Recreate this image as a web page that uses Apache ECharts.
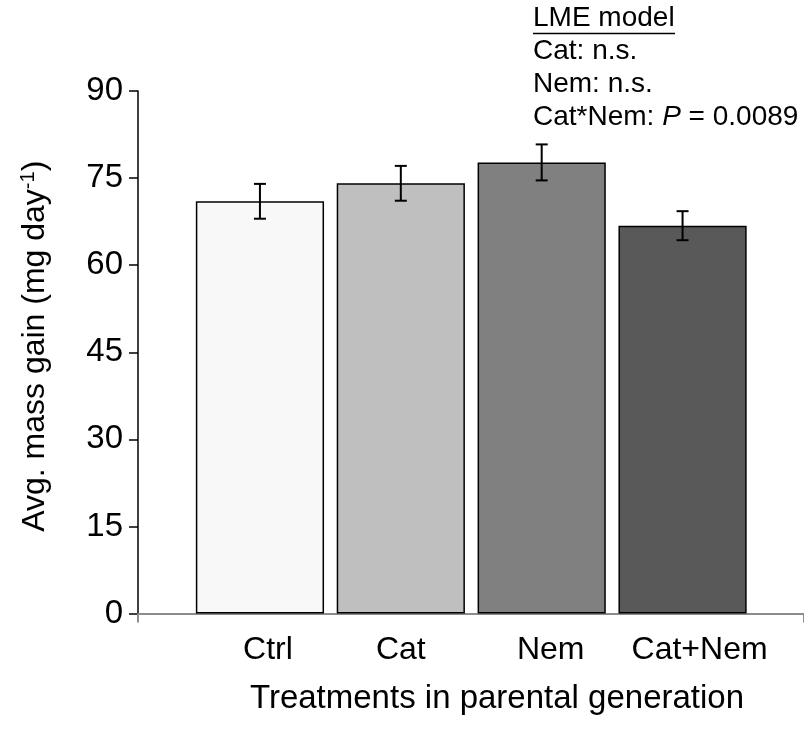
<!DOCTYPE html>
<html>
<head>
<meta charset="utf-8">
<script src="https://cdn.jsdelivr.net/npm/echarts@6/dist/echarts.min.js"></script>
<style>html,body{margin:0;padding:0;background:#fff}#c{width:804px;height:732px}</style>
</head>
<body>
<div id="c"></div>
<script>
const categories = ['Ctrl', 'Cat', 'Nem', 'Cat+Nem'];
const values = [71.0, 74.1, 77.7, 66.8];
const errors = [3.0, 3.0, 3.1, 2.5];
const barColors = ['#f8f8f8', '#bfbfbf', '#808080', '#595959'];
const yTicks = { min: 0, max: 90, interval: 15 };
const annotation = ['LME model', 'Cat: n.s.', 'Nem: n.s.'];

const FONT = 'Liberation Sans, Arial, sans-serif';
const chart = echarts.init(document.getElementById('c'));

const gridTop = 91, gridBottom = 118.5;
// label offsets to mimic the original placement
const labelPad = [16, 0, 18, 34];
const AF = 28;

chart.setOption({
  animation: false,
  backgroundColor: '#fff',
  grid: [
    { left: 138, right: 0, top: gridTop, bottom: gridBottom },
    { left: 189.5, right: 51, top: gridTop, bottom: gridBottom }
  ],
  xAxis: [
    {
      type: 'value', gridIndex: 0, min: 0, max: 1, interval: 1,
      axisLine: { show: true, lineStyle: { color: '#8c8c8c', width: 2 } },
      axisTick: { show: true, length: 9, lineStyle: { color: '#8c8c8c', width: 2 } },
      axisLabel: { show: false }, splitLine: { show: false },
      name: 'Treatments in parental generation', nameLocation: 'middle', nameGap: 69,
      nameTextStyle: { fontFamily: FONT, fontSize: 33, color: '#000', padding: [0, 0, 0, 52] }
    },
    {
      type: 'category', gridIndex: 1,
      data: categories.map((c, i) => ({ value: c, textStyle: { padding: [0, 0, 0, labelPad[i]] } })),
      axisLine: { show: false }, axisTick: { show: false },
      axisLabel: { fontFamily: FONT, fontSize: 32, color: '#000', margin: 21, interval: 0 }
    }
  ],
  yAxis: [
    {
      type: 'value', gridIndex: 0, min: yTicks.min, max: yTicks.max, interval: yTicks.interval,
      axisLine: { show: true, lineStyle: { color: '#000', width: 1.5 } },
      axisTick: { show: true, length: 9, lineStyle: { color: '#000', width: 1.5 } },
      axisLabel: { fontFamily: FONT, fontSize: 33, color: '#000', margin: 15 },
      splitLine: { show: false },
      name: '{n|Avg. mass gain (mg day}{s|-1}{n|)}', nameLocation: 'middle', nameGap: 84, nameRotate: 90,
      nameTextStyle: {
        fontFamily: FONT, fontSize: 32, color: '#000', padding: [0, 0, 0, 12],
        rich: {
          n: { fontFamily: FONT, fontSize: 32, color: '#000', lineHeight: 38 },
          s: { fontFamily: FONT, fontSize: 20, color: '#000', lineHeight: 38, padding: [0, 0, 14, 0] }
        }
      }
    },
    {
      type: 'value', gridIndex: 1, min: yTicks.min, max: yTicks.max, interval: yTicks.interval,
      show: false
    }
  ],
  series: [
    {
      type: 'bar', xAxisIndex: 1, yAxisIndex: 1, barWidth: '91%',
      data: values.map((v, i) => ({
        value: v,
        itemStyle: { color: barColors[i], borderColor: '#000', borderWidth: 1.5 }
      }))
    },
    {
      type: 'custom', xAxisIndex: 1, yAxisIndex: 1, z: 10,
      data: values.map((v, i) => [i, v - errors[i], v + errors[i]]),
      renderItem: function (params, api) {
        const lo = api.coord([api.value(0), api.value(1)]);
        const hi = api.coord([api.value(0), api.value(2)]);
        const hw = 6;
        const st = { stroke: '#000', lineWidth: 2 };
        return {
          type: 'group',
          children: [
            { type: 'line', shape: { x1: lo[0], y1: lo[1], x2: hi[0], y2: hi[1] }, style: st },
            { type: 'line', shape: { x1: lo[0] - hw, y1: lo[1], x2: lo[0] + hw, y2: lo[1] }, style: st },
            { type: 'line', shape: { x1: hi[0] - hw, y1: hi[1], x2: hi[0] + hw, y2: hi[1] }, style: st }
          ]
        };
      }
    }
  ],
  graphic: [
    { type: 'text', left: 533, top: 4, style: { text: annotation[0], fontFamily: FONT, fontSize: AF, fill: '#000' } },
    { type: 'line', shape: { x1: 533, y1: 33.5, x2: 675, y2: 33.5 }, style: { stroke: '#000', lineWidth: 1.5 } },
    { type: 'text', left: 533, top: 37, style: { text: annotation[1], fontFamily: FONT, fontSize: AF, fill: '#000' } },
    { type: 'text', left: 533, top: 70, style: { text: annotation[2], fontFamily: FONT, fontSize: AF, fill: '#000' } },
    { type: 'text', left: 533, top: 103, style: {
        text: '{n|Cat*Nem: }{i|P}{n| = 0.0089}', fontFamily: FONT, fontSize: AF, fill: '#000',
        rich: {
          n: { fontFamily: FONT, fontSize: AF, color: '#000' },
          i: { fontFamily: FONT, fontSize: AF, fontStyle: 'italic', color: '#000' }
        }
      } }
  ]
});
</script>
</body>
</html>
